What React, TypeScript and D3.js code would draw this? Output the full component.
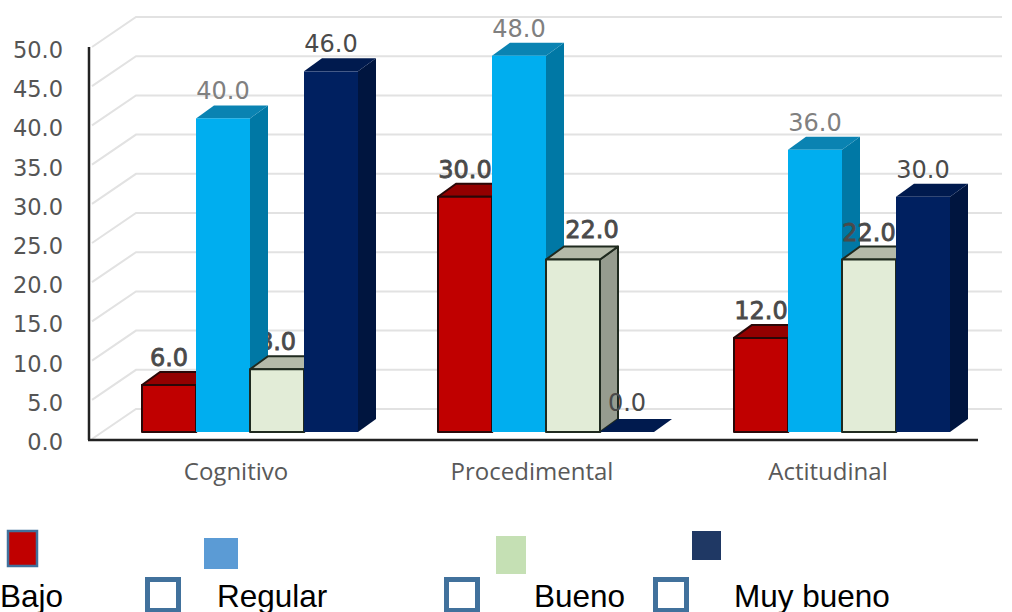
import React from "react";
import * as d3 from "d3";

const categories = ["Cognitivo", "Procedimental", "Actitudinal"];
const seriesNames = ["Bajo", "Regular", "Bueno", "Muy bueno"];
const bajo = [6, 30, 12];
const regular = [40, 48, 36];
const bueno = [8, 22, 22];
const muyBueno = [46, 0, 30];
const yTicks = [0, 5, 10, 15, 20, 25, 30, 35, 40, 45, 50];

const seriesValues = [bajo, regular, bueno, muyBueno];

const faces = [
  { front: "#c00000", side: "#7d0000", top: "#930000", stroke: "#2a0808" },
  { front: "#00aeef", side: "#0078a5", top: "#0a83b2", stroke: "none" },
  { front: "#e2ecd7", side: "#969c8f", top: "#b4baa9", stroke: "#1f2a1f" },
  { front: "#002060", side: "#00153f", top: "#001a4e", stroke: "none" },
];

// labels nudged off their column and painted above the columns
const raisedLabels = [
  { series: 2, group: 1, dx: 19, dy: -3 },
  { series: 3, group: 1, dx: 0, dy: -2 },
];
// label painted over the blue column but still under the navy one
const midLabel = { series: 2, group: 2 };

const legendSwatches = [
  { x: 8, y: 531, w: 29, h: 35, fill: "#c00000", stroke: "#41719c" },
  { x: 204, y: 538, w: 34, h: 31, fill: "#5b9bd5", stroke: "none" },
  { x: 496, y: 536, w: 30, h: 38, fill: "#c5e0b4", stroke: "none" },
  { x: 692, y: 531, w: 29, h: 29, fill: "#1f3864", stroke: "none" },
];
const legendBoxes = [147.5, 446.5, 655.5];
const legendTextX = [0, 217, 534, 734];

const y = d3.scaleLinear().domain([0, 50]).range([439, 47]);
const x = d3.scaleBand<string>().domain(categories).range([102, 990]);
const DEPTH_X = 18;
const DEPTH_Y = 13;
const BAR_W = 54;
const BASE_LIFT = y(0) - 432;
const WALL_X = 44;
const WALL_Y = 30;

const number = d3.format(".1f");
const labelFont = "'DejaVu Sans', sans-serif";

function Bar({ series, group }: { series: number; group: number }) {
  const value = seriesValues[series][group];
  const f = faces[series];
  const cx = x(categories[group])! + x.bandwidth() / 2;
  const x0 = cx + (series - 2) * BAR_W;
  const x1 = x0 + BAR_W;
  const base = y(0) - BASE_LIFT;
  const top = y(value) - BASE_LIFT;
  const poly = (pts: [number, number][]) => pts.map((p) => p.join(",")).join(" ");
  const sw = f.stroke === "none" ? 0 : 2;
  return (
    <g strokeLinejoin="round">
      <polygon
        points={poly([[x1, top], [x1 + DEPTH_X, top - DEPTH_Y], [x1 + DEPTH_X, base - DEPTH_Y], [x1, base]])}
        fill={f.side}
        stroke={f.stroke}
        strokeWidth={sw}
      />
      <polygon
        points={poly([[x0, top], [x0 + DEPTH_X, top - DEPTH_Y], [x1 + DEPTH_X, top - DEPTH_Y], [x1, top]])}
        fill={f.top}
        stroke={f.stroke}
        strokeWidth={sw}
      />
      {value > 0 && (
        <rect x={x0} y={top} width={BAR_W} height={base - top} fill={f.front} stroke={f.stroke} strokeWidth={sw} />
      )}
    </g>
  );
}

function ValueLabel({ series, group, dx = 0, dy = 0 }: { series: number; group: number; dx?: number; dy?: number }) {
  const v = seriesValues[series][group];
  const cx = x(categories[group])! + x.bandwidth() / 2 + (series - 2) * BAR_W + BAR_W / 2;
  const heavy = series === 0 || series === 2;
  const fill = series === 1 ? "#808080" : "#4a4a4a";
  return (
    <text
      x={cx + dx}
      y={y(v) - BASE_LIFT - DEPTH_Y - 6 + dy}
      textAnchor="middle"
      fontFamily={labelFont}
      fontSize={24}
      fill={fill}
      stroke={heavy ? fill : "none"}
      strokeWidth={heavy ? 0.8 : 0}
    >
      {number(v)}
    </text>
  );
}

const isRaised = (s: number, g: number) => raisedLabels.some((r) => r.series === s && r.group === g);
const isMid = (s: number, g: number) => midLabel.series === s && midLabel.group === g;

export default function App() {
  return (
    <svg
      width={1012}
      height={612}
      viewBox="0 0 1012 612"
      style={{ position: "fixed", left: 0, top: 0, background: "#fff" }}
    >
      {/* back wall and side wall gridlines */}
      {yTicks.map((t) => (
        <polyline
          key={t}
          points={`92,${y(t)} ${92 + WALL_X},${y(t) - WALL_Y} 1002,${y(t) - WALL_Y}`}
          stroke="#e2e2e2"
          strokeWidth={2}
          fill="none"
        />
      ))}

      {/* most value labels sit behind the columns */}
      {seriesValues.map((vals, s) =>
        vals.map((_, g) =>
          isRaised(s, g) || isMid(s, g) ? null : <ValueLabel key={`${s}-${g}`} series={s} group={g} />
        )
      )}

      {/* columns, left to right so each one overlaps its neighbour */}
      {categories.map((c, g) => (
        <g key={c}>
          {seriesNames.map((n, s) => (
            <React.Fragment key={n}>
              <Bar series={s} group={g} />
              {isMid(s, g) && <ValueLabel series={s} group={g} />}
            </React.Fragment>
          ))}
        </g>
      ))}

      {raisedLabels.map((r) => (
        <ValueLabel key={`${r.series}-${r.group}`} {...r} />
      ))}

      {/* axes */}
      <line x1={89} x2={89} y1={47} y2={440} stroke="#222" strokeWidth={2.5} />
      <line x1={88} x2={978} y1={440} y2={440} stroke="#222" strokeWidth={2.5} />

      {yTicks.map((t) => (
        <text
          key={t}
          x={63}
          y={y(t) + 11}
          textAnchor="end"
          fontFamily={labelFont}
          fontSize={22.5}
          fill="#555"
        >
          {number(t)}
        </text>
      ))}

      {categories.map((c) => (
        <text
          key={c}
          x={x(c)! + x.bandwidth() / 2 - 14}
          y={480}
          textAnchor="middle"
          fontFamily="'Open Sans', sans-serif"
          fontSize={24}
          fill="#595959"
        >
          {c}
        </text>
      ))}

      {/* legend */}
      {legendSwatches.map((s, i) => (
        <rect key={i} x={s.x} y={s.y} width={s.w} height={s.h} fill={s.fill} stroke={s.stroke} strokeWidth={s.stroke === "none" ? 0 : 2.5} />
      ))}
      {legendBoxes.map((bx) => (
        <rect key={bx} x={bx} y={579.5} width={31} height={31} fill="#fff" stroke="#41719c" strokeWidth={5} />
      ))}
      {seriesNames.map((n, i) => (
        <text key={n} x={legendTextX[i]} y={607} fontFamily="'Liberation Sans', Arial, sans-serif" fontSize={31.5} fill="#000">
          {n}
        </text>
      ))}
    </svg>
  );
}
